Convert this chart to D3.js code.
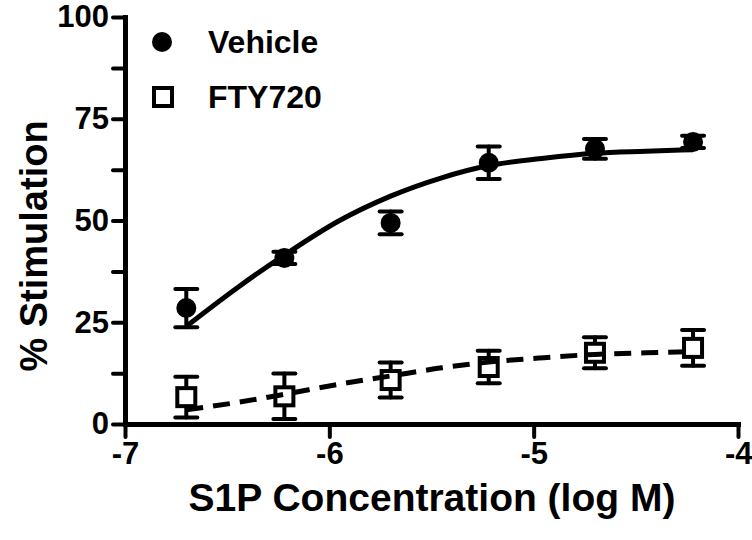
<!DOCTYPE html>
<html>
<head>
<meta charset="utf-8">
<script src="https://cdn.jsdelivr.net/npm/d3@7"></script>
<style>
  html, body { margin: 0; padding: 0; background: #fff; }
  svg { display: block; }
  text { font-family: "Liberation Sans", Arial, sans-serif; font-weight: bold; fill: #000; }
</style>
</head>
<body>
<svg id="chart" width="752" height="540"></svg>
<script>
// ---- data ----
const logConc = [-6.70, -6.22, -5.70, -5.22, -4.70, -4.22];
const vehicleMean = [28.5, 40.8, 49.4, 64.2, 67.6, 69.3];
const vehicleErr  = [4.7, 1.5, 2.8, 4.0, 2.4, 1.5];
const ftyMean = [6.6, 6.8, 10.8, 14.0, 17.5, 18.7];
const ftyErr  = [5.0, 5.6, 4.3, 4.0, 3.8, 4.4];
// fitted curves
const fitX = [-6.70, -6.45, -6.22, -5.95, -5.70, -5.45, -5.22, -4.95, -4.70, -4.45, -4.22];
const vehicleFit = [24, 33.5, 41.5, 50, 56, 60.5, 63.5, 65.3, 66.5, 67.0, 67.4];
const ftyFit = [3.5, 5.3, 7.3, 9.8, 11.8, 13.8, 15.2, 16.3, 17.1, 17.5, 17.8];
const xTicks = [-7, -6, -5, -4];
const yTicks = [0, 12.5, 25, 37.5, 50, 62.5, 75, 87.5, 100];
const yLabels = [0, 25, 50, 75, 100];
const seriesNames = ["Vehicle", "FTY720"];
const xTitle = "S1P Concentration (log M)";
const yTitle = "% Stimulation";

// ---- layout ----
const svg = d3.select("#chart");
const x = d3.scaleLinear().domain([-7, -4]).range([125, 738]);
const y = d3.scaleLinear().domain([0, 100]).range([424, 17]);

const vehicle = logConc.map((c, i) => ({x: c, y: vehicleMean[i], e: vehicleErr[i]}));
const fty = logConc.map((c, i) => ({x: c, y: ftyMean[i], e: ftyErr[i]}));

// axes
const yAxis = d3.axisLeft(y).tickValues(yTicks).tickSize(12).tickSizeOuter(0).tickPadding(4)
  .tickFormat(d => yLabels.includes(d) ? String(d) : "");
const xAxis = d3.axisBottom(x).tickValues(xTicks).tickSize(13).tickSizeOuter(0).tickPadding(4)
  .tickFormat(d => String(d));

const gy = svg.append("g").attr("transform", `translate(${x(-7)},0)`).call(yAxis);
const gx = svg.append("g").attr("transform", `translate(0,${y(0)})`).call(xAxis);
[gx, gy].forEach(g => {
  g.select(".domain").attr("stroke", "#000").attr("stroke-width", 5).attr("stroke-linecap", "square");
  g.selectAll(".tick line").attr("stroke", "#000").attr("stroke-width", 4).attr("stroke-linecap", "round");
  g.selectAll(".tick text").style("font-size", "31px").style("font-family", "'Liberation Sans', Arial, sans-serif").style("font-weight", "bold").attr("fill", "#000");
});
gx.selectAll(".tick text").attr("dy", "0.75em");
gx.selectAll(".tick").filter(d => d === -4).select("text").attr("text-anchor", "end").attr("dx", "14");

// axis titles
svg.append("text").attr("x", 432).attr("y", 511).attr("text-anchor", "middle")
  .style("font-size", "39px").text(xTitle);
svg.append("text").attr("transform", `translate(47,246) rotate(-90)`).attr("text-anchor", "middle")
  .style("font-size", "38px").text(yTitle);

// error bars
function errorBars(data) {
  const g = svg.append("g").attr("stroke", "#000").attr("stroke-width", 4).attr("stroke-linecap", "round");
  data.forEach(d => {
    const top = y(d.y + d.e), bot = y(Math.max(0, d.y - d.e));
    g.append("line").attr("x1", x(d.x)).attr("x2", x(d.x)).attr("y1", top).attr("y2", bot);
    g.append("line").attr("x1", x(d.x) - 11).attr("x2", x(d.x) + 11).attr("y1", top).attr("y2", top);
    g.append("line").attr("x1", x(d.x) - 11).attr("x2", x(d.x) + 11).attr("y1", bot).attr("y2", bot);
  });
}
errorBars(vehicle);
errorBars(fty);

// markers
svg.append("g").selectAll("circle").data(vehicle).join("circle")
  .attr("cx", d => x(d.x)).attr("cy", d => y(d.y)).attr("r", 10).attr("fill", "#000");
svg.append("g").selectAll("rect").data(fty).join("rect")
  .attr("x", d => x(d.x) - 9).attr("y", d => y(d.y) - 9).attr("width", 18).attr("height", 18)
  .attr("fill", "#fff").attr("stroke", "#000").attr("stroke-width", 4);

// fit lines
const line = d3.line().x(d => x(d[0])).y(d => y(d[1])).curve(d3.curveMonotoneX);
svg.append("path").datum(fitX.map((v, i) => [v, vehicleFit[i]])).attr("d", line)
  .attr("fill", "none").attr("stroke", "#000").attr("stroke-width", 5);
svg.append("path").datum(fitX.map((v, i) => [v, ftyFit[i]])).attr("d", line)
  .attr("fill", "none").attr("stroke", "#000").attr("stroke-width", 5).attr("stroke-dasharray", "17,10");

// legend
const leg = svg.append("g");
leg.append("circle").attr("cx", 162).attr("cy", 42).attr("r", 10).attr("fill", "#000");
leg.append("rect").attr("x", 154).attr("y", 88).attr("width", 18).attr("height", 18)
  .attr("fill", "#fff").attr("stroke", "#000").attr("stroke-width", 4);
leg.append("text").attr("x", 208).attr("y", 53).style("font-size", "32px").text(seriesNames[0]);
leg.append("text").attr("x", 208).attr("y", 108).style("font-size", "32px").text(seriesNames[1]);
</script>
</body>
</html>
